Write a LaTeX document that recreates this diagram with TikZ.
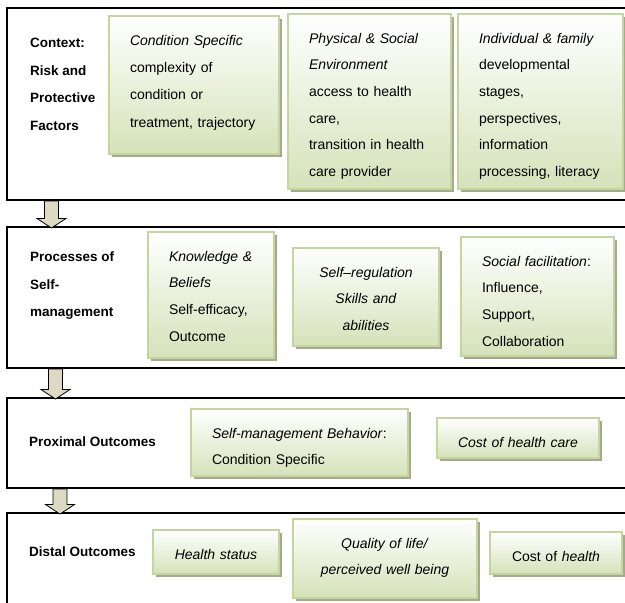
\documentclass[tikz,border=0pt]{standalone}
\usepackage{fontspec}
\setmainfont{Liberation Sans}
\usetikzlibrary{shadows,calc}

\definecolor{boxline}{HTML}{C3D69B}
\definecolor{boxfill}{HTML}{D5E2B9}
\definecolor{boxshadow}{HTML}{A6A992}
\definecolor{arrowfill}{HTML}{DDD9C3}

\tikzset{
	frame/.style={draw=black,line width=2pt,anchor=north west,minimum width=650pt,inner sep=0pt},
	framelabel/.style={anchor=north west,inner sep=0pt,align=left,font=\fontsize{13.5}{27.5}\selectfont\bfseries},
	greenbox/.style={draw=boxline,line width=2pt,top color=white,bottom color=boxfill,anchor=north west,
		inner xsep=21pt,inner ysep=0pt,text height=29pt,font=\fontsize{14}{26.7}\selectfont,
		drop shadow={shadow xshift=3pt,shadow yshift=-3pt,fill=boxshadow,opacity=1}},
	centered/.style={inner xsep=10pt,align=center},
	blockarrow/.style={fill=arrowfill,draw=black,line width=0.8pt}
}

% #1 start point, #2 length down to the next frame
\newcommand\blockarrow[2]{%
	\draw[blockarrow] #1 ++(-7,0) -- ++(0,#2-9.5) -- ++(-7.5,0) -- ++(14.5,9.5)
		-- ++(14.5,-9.5) -- ++(-7.5,0) -- ++(0,9.5-#2) -- cycle;}

\begin{document}
\begin{tikzpicture}[x=1pt,y=-1pt]
	\useasboundingbox (0,0) rectangle (625,603);

	\begin{scope}[every node/.style={frame}]
		\node[minimum height=192pt] (Context) at (6,7) {};
		\node[minimum height=141pt] (Process) at (6,226) {};
		\node[minimum height=90pt] (Proximal) at (6,397) {};
		\node[minimum height=120pt] (Distal) at (6,512) {};
	\end{scope}

	\node[framelabel] (ContextText) at (30,38) {Context:\\Risk and\\Protective\\Factors};
	\node[framelabel] (ProcessText) at (30,252) {Processes of\\Self-\\management};
	\node[framelabel] (ProximalText) at (29,437) {Proximal Outcomes};
	\node[framelabel] (DistalText) at (29,547) {Distal Outcomes};

	\blockarrow{($(Context.south west)+(45.5,0)$)}{27}
	\blockarrow{($(Process.south west)+(49.5,0)$)}{30}
	\blockarrow{($(Proximal.south west)+(54,0)$)}{25}

	\begin{scope}[every node/.style={greenbox}]
		\node[minimum width=170pt,text width=128pt,text depth=109pt,align=left,
			font=\fontsize{14}{27.4}\selectfont] (Cond) at (108,15)
			{\textit{Condition Specific}\\complexity of\\condition or\\treatment, trajectory};
		\node[minimum width=163pt,text width=121pt,text depth=146pt,align=left] (Env) at (287,13)
			{\textit{Physical \& Social}\\\textit{Environment}\\access to health\\care,\\transition in health\\care provider};
		\node[minimum width=165pt,text width=123pt,text depth=146pt,align=left] (Family) at (457,13)
			{\textit{Individual \& family}\\developmental\\stages,\\perspectives,\\information\\processing, literacy};

		\node[minimum width=126pt,text width=84pt,text depth=97pt,align=left] (Know) at (147,231)
			{\textit{Knowledge \&}\\\textit{Beliefs}\\Self-efficacy,\\Outcome};
		\node[centered,minimum width=146pt,text width=126pt,text depth=69pt] (Regul) at (292,247)
			{\textit{Self–regulation}\\\textit{Skills and}\\\textit{abilities}};
		\node[minimum width=153pt,text width=111pt,text depth=90pt,align=left] (Social) at (460,236)
			{\textit{Social facilitation}:\\Influence,\\Support,\\Collaboration};

		\node[minimum width=217pt,text width=175pt,text depth=38pt,align=left] (Behav) at (190,408)
			{\textit{Self-management Behavior}:\\Condition Specific};
		\node[centered,minimum width=162pt,text width=142pt,text depth=11pt] (Care) at (436,417)
			{\textit{Cost of health care}};

		\node[centered,minimum width=126pt,text width=106pt,text depth=15pt] (Status) at (152,529)
			{\textit{Health status}};
		\node[centered,minimum width=184pt,text width=164pt,text depth=50pt] (Life) at (292,518)
			{\textit{Quality of life/}\\\textit{perceived well being}};
		\node[centered,minimum width=132pt,text width=112pt,text depth=13pt] (Cost) at (489,531)
			{Cost of \textit{health}};
	\end{scope}
\end{tikzpicture}
\end{document}
